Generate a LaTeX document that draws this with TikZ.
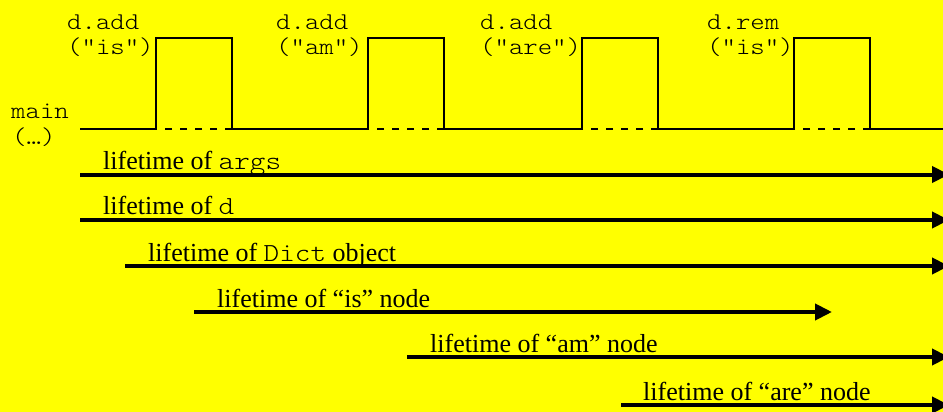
\documentclass[tikz,border=0pt]{standalone}
\usepackage{fontspec}
\setmainfont{Liberation Serif}
\setmonofont{Latin Modern Mono Light}[FakeStretch=1.143]
\usetikzlibrary{arrows.meta}
\definecolor{bgyellow}{RGB}{255,255,0}
\begin{document}
\begin{tikzpicture}[x=1pt,y=-1pt,
  codelabel/.style={font=\fontsize{24}{24}\selectfont\ttfamily, anchor=base west, inner sep=0pt},
  lifelabel/.style={font=\fontsize{26}{26}\selectfont, anchor=base west, inner sep=0pt},
  signal/.style={line width=2pt, line join=miter},
  idle/.style={line width=2pt, dash pattern=on 7.5pt off 7.5pt},
  life/.style={line width=4pt, -{Triangle[length=17pt,width=16pt]}}]
\clip (0,0) rectangle (943,412);
\fill[bgyellow] (0,0) rectangle (943,412);

% call timeline of main: low = main running, high = call in progress
\coordinate (m0) at (80,129);
\coordinate (mend) at (943,129);
\foreach \i/\l/\r in {1/156/232, 2/368/444, 3/582/658, 4/794/870} {
  \coordinate (lo\i) at (\l,129);
  \coordinate (hi\i) at (\l,38);
  \coordinate (hr\i) at (\r,38);
  \coordinate (ro\i) at (\r,129);
}
\draw[signal] (m0) -- (lo1) -- (hi1) -- (hr1) -- (ro1)
  -- (lo2) -- (hi2) -- (hr2) -- (ro2)
  -- (lo3) -- (hi3) -- (hr3) -- (ro3)
  -- (lo4) -- (hi4) -- (hr4) -- (ro4) -- (mend);
\foreach \i in {1,2,3,4} { \draw[idle] (ro\i) -- (lo\i); }

% call labels
\node[codelabel] (mainA) at (11,118) {main};
\node[codelabel] (mainB) at (12,144) {(…)};
\node[codelabel] (c1a) at (67,30) {d.add};
\node[codelabel] (c1b) at (67,55) {("is")};
\node[codelabel] (c2a) at (276,30) {d.add};
\node[codelabel] (c2b) at (276,55) {("am")};
\node[codelabel] (c3a) at (480,30) {d.add};
\node[codelabel] (c3b) at (480,55) {("are")};
\node[codelabel] (c4a) at (707,30) {d.rem};
\node[codelabel] (c4b) at (707,55) {("is")};

% lifetimes
\coordinate (s1) at (80,174.5);  \coordinate (e1) at (949,174.5);
\coordinate (s2) at (80,220);    \coordinate (e2) at (949,220);
\coordinate (s3) at (125,266);   \coordinate (e3) at (949,266);
\coordinate (s4) at (194,312);   \coordinate (e4) at (832,312);
\coordinate (s5) at (407,357);   \coordinate (e5) at (949,357);
\coordinate (s6) at (621,405);   \coordinate (e6) at (949,405);
\foreach \i in {1,...,6} { \draw[life] (s\i) -- (e\i); }

\node[lifelabel] (t1) at ([shift={(23,-5.5)}]s1) {lifetime of \texttt{args}};
\node[lifelabel] (t2) at ([shift={(23,-6)}]s2) {lifetime of \texttt{d}};
\node[lifelabel] (t3) at ([shift={(23,-5)}]s3) {lifetime of \texttt{Dict} object};
\node[lifelabel] (t4) at ([shift={(23,-5)}]s4) {lifetime of “is” node};
\node[lifelabel] (t5) at ([shift={(23,-5)}]s5) {lifetime of “am” node};
\node[lifelabel] (t6) at ([shift={(22,-5)}]s6) {lifetime of “are” node};
\end{tikzpicture}
\end{document}
